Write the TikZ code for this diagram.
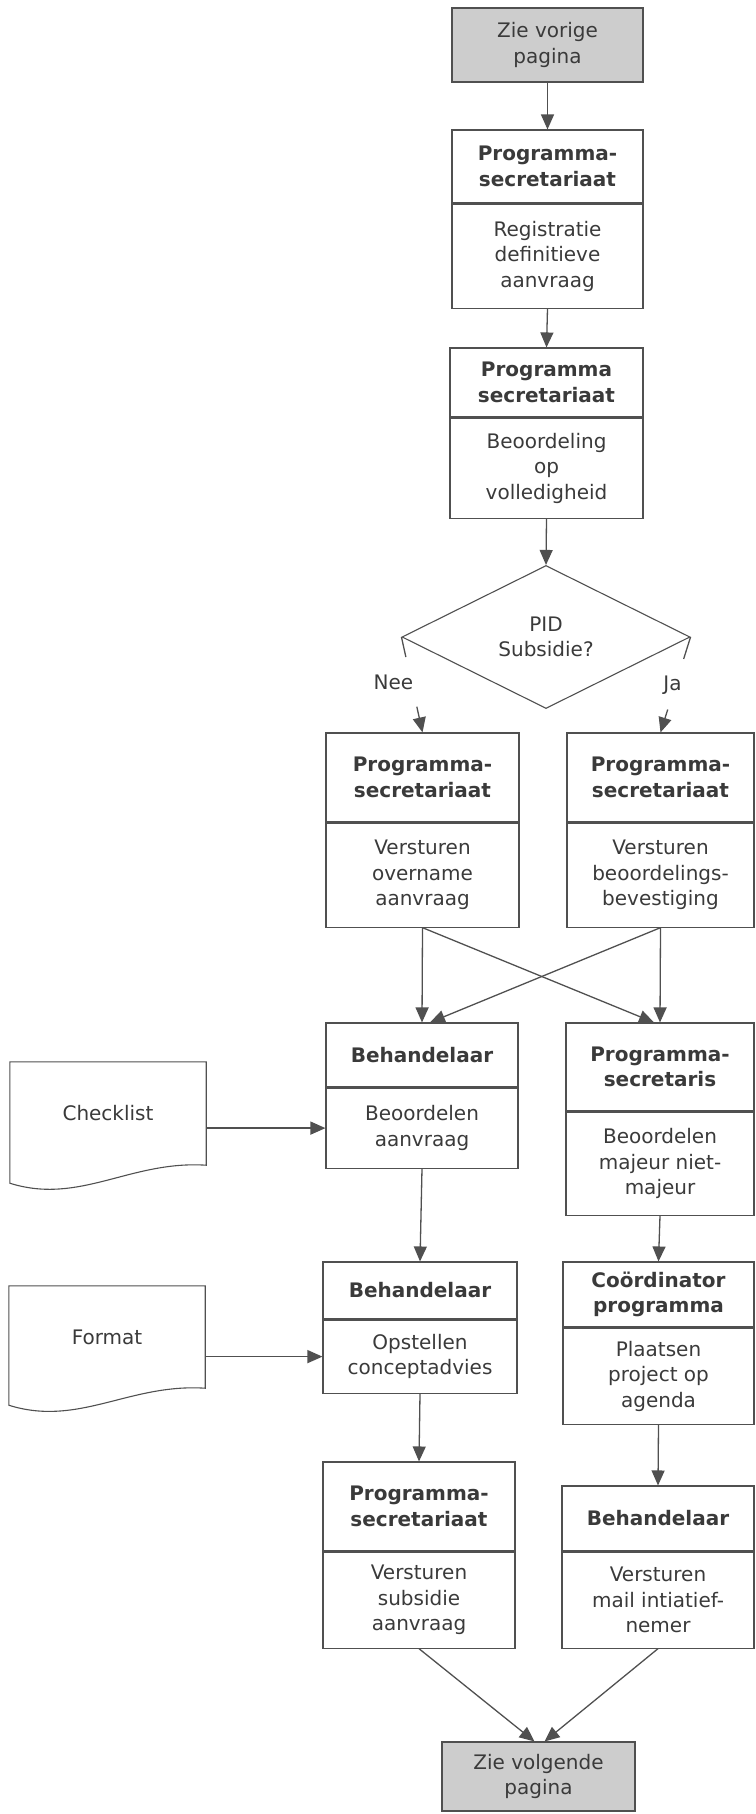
\documentclass[tikz,border=0pt]{standalone}
\usepackage{fontspec}
\setmainfont{DejaVu Sans}
\usepackage{tikz}
\usetikzlibrary{shapes.geometric,arrows.meta,positioning,calc}
\definecolor{lijn}{HTML}{505050}
\definecolor{tekst}{HTML}{3A3A3A}
\definecolor{grijsvlak}{HTML}{CDCDCD}

\begin{document}
\begin{tikzpicture}[x=1pt, y=-1pt,
        every node/.style={font=\fontsize{20}{25.5}\selectfont, text=tekst, align=center},
        kop/.style={draw=lijn, line width=1.1pt, inner sep=2pt, font=\fontsize{20}{25.5}\selectfont\bfseries},
        taak/.style={draw=lijn, line width=1.1pt, inner sep=2pt},
        pagina/.style={draw=lijn, line width=1.1pt, fill=grijsvlak, inner sep=2pt},
        papier/.style={draw=lijn, line width=1.1pt},
        lijntje/.style={draw=lijn, line width=1.3pt},
        pijl/.style={draw=lijn, line width=1.3pt, -{Triangle[length=15pt,width=13pt]}}]
        \useasboundingbox (0,0) rectangle (755,1814);

        % Zie vorige pagina
        \node[pagina, minimum width=191pt, minimum height=74pt] (vorige) at (547.5,45) {Zie vorige\\pagina};

        % Registratie
        \node[kop, minimum width=191pt, minimum height=73pt] (regkop) at (547.5,166.5) {Programma-\\secretariaat};
        \node[taak, minimum width=191pt, minimum height=104pt, below=0pt of regkop] (registratie) {Registratie\\definitieve\\aanvraag};

        % Volledigheid
        \node[kop, minimum width=193pt, minimum height=69pt] (volkop) at (546.5,382.5) {Programma\\secretariaat};
        \node[taak, minimum width=193pt, minimum height=100pt, below=0pt of volkop] (volledig) {Beoordeling\\op\\volledigheid};

        % Beslissing
        \node[draw=lijn, line width=1.1pt, diamond, aspect=2, inner sep=0pt, minimum width=288pt, minimum height=143pt] (pid) at (546,637) {PID\\Subsidie?};

        % Nee / Ja
        \node[kop, minimum width=193pt, minimum height=89pt] (neekop) at (422.5,777.5) {Programma-\\secretariaat};
        \node[taak, minimum width=193pt, minimum height=104pt, below=0pt of neekop] (overname) {Versturen\\overname\\aanvraag};
        \node[kop, minimum width=187pt, minimum height=89pt] (jakop) at (660.5,777.5) {Programma-\\secretariaat};
        \node[taak, minimum width=187pt, minimum height=104pt, below=0pt of jakop] (bevestiging) {Versturen\\beoordelings-\\bevestiging};

        % Beoordelen
        \node[kop, minimum width=192pt, minimum height=64pt] (beh1kop) at (422,1055) {Behandelaar};
        \node[taak, minimum width=192pt, minimum height=80pt, below=0pt of beh1kop] (beoordelen) {Beoordelen\\aanvraag};
        \node[kop, minimum width=188pt, minimum height=88pt] (seckop) at (660,1067) {Programma-\\secretaris};
        \node[taak, minimum width=188pt, minimum height=103pt, below=0pt of seckop] (majeur) {Beoordelen\\majeur niet-\\majeur};

        % Checklist
        \node[minimum width=196pt, minimum height=103pt, inner sep=0pt] (checklist) at (108,1113.5) {Checklist};
        \draw[papier] (checklist.north west) -- (checklist.north east) -- (checklist.south east)
            .. controls +(-76,-5) and +(70,22) .. ([yshift=-18pt]checklist.south west) -- cycle;

        % Opstellen
        \node[kop, minimum width=194pt, minimum height=57pt] (beh2kop) at (420,1290.5) {Behandelaar};
        \node[taak, minimum width=194pt, minimum height=73pt, below=0pt of beh2kop] (concept) {Opstellen\\conceptadvies};
        \node[kop, minimum width=191pt, minimum height=65pt] (coordkop) at (658.5,1294.5) {Coördinator\\programma};
        \node[taak, minimum width=191pt, minimum height=96pt, below=0pt of coordkop] (agenda) {Plaatsen\\project op\\agenda};

        % Format
        \node[minimum width=196pt, minimum height=102pt, inner sep=0pt] (format) at (107,1337) {Format};
        \draw[papier] (format.north west) -- (format.north east) -- (format.south east)
            .. controls +(-76,-5) and +(70,22) .. ([yshift=-17pt]format.south west) -- cycle;

        % Versturen
        \node[kop, minimum width=192pt, minimum height=89pt] (subkop) at (419,1506.5) {Programma-\\secretariaat};
        \node[taak, minimum width=192pt, minimum height=96pt, below=0pt of subkop] (subsidie) {Versturen\\subsidie\\aanvraag};
        \node[kop, minimum width=192pt, minimum height=65pt] (beh3kop) at (658,1518.5) {Behandelaar};
        \node[taak, minimum width=192pt, minimum height=96pt, below=0pt of beh3kop] (mail) {Versturen\\mail intiatief-\\nemer};

        % Zie volgende pagina
        \node[pagina, minimum width=193pt, minimum height=69pt] (volgende) at (538.5,1776.5) {Zie volgende\\pagina};

        % Pijlen
        \draw[pijl] (vorige.south) -- (regkop.north);
        \draw[pijl] (registratie.south) -- (volkop.north);
        \draw[pijl] (volledig.south) -- (pid.north);

        \node (nee) at ($(pid.west)!0.47!(neekop.north)+(-18,0)$) {Nee};
        \draw[lijntje] (pid.west) -- ($(pid.west)!0.21!(neekop.north)$);
        \draw[pijl] ($(pid.west)!0.73!(neekop.north)$) -- (neekop.north);
        \node (ja) at ($(pid.east)!0.5!(jakop.north)+(-3,0)$) {Ja};
        \draw[lijntje] (pid.east) -- ($(pid.east)!0.23!(jakop.north)$);
        \draw[pijl] ($(pid.east)!0.76!(jakop.north)$) -- (jakop.north);

        \draw[pijl] (overname.south) -- (beh1kop.north);
        \draw[pijl] (bevestiging.south) -- (seckop.north);
        \draw[pijl] (overname.south) -- ([xshift=-6pt]seckop.north);
        \draw[pijl] (bevestiging.south) -- ([xshift=8pt]beh1kop.north);

        \draw[pijl] (checklist.east |- beoordelen.west) -- (beoordelen.west);
        \draw[pijl] (format.east |- concept.west) -- (concept.west);

        \draw[pijl] (beoordelen.south) -- (beh2kop.north);
        \draw[pijl] (majeur.south) -- (coordkop.north);
        \draw[pijl] (concept.south) -- (subkop.north);
        \draw[pijl] (agenda.south) -- (beh3kop.north);
        \draw[pijl] (subsidie.south) -- ([xshift=-4pt]volgende.north);
        \draw[pijl] (mail.south) -- ([xshift=6pt]volgende.north);
\end{tikzpicture}
\end{document}
